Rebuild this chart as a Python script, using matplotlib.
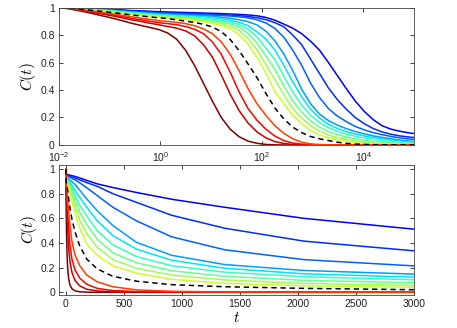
import numpy as np
import matplotlib
matplotlib.use('Agg')
import matplotlib.pyplot as plt
from matplotlib.ticker import NullLocator, FuncFormatter

plt.rcParams['font.family'] = ['Liberation Sans', 'DejaVu Sans']
plt.rcParams['mathtext.fontset'] = 'cm'

# sample times (log spaced, ratio 1.5)
t = 0.0107 * 1.5 ** np.arange(41)

# correlation curves (fast -> slow)
maroon = [1.0, .99, .978, .965, .95, .935, .92, .903, .885, .87, .855, .84, .815, .77, .69, .58, .45, .32, .2, .115,
          .06, .028, .012, .004, .001, 0, 0, 0, 0, 0, 0, 0, 0, 0, 0, 0, 0, 0, 0, 0, 0]
red2 = [1.0, .9925, .9825, .9725, .961, .949, .9375, .924, .91, .899, .886, .875, .862, .85, .83, .795, .73, .64, .51,
        .37, .25, .16, .095, .052, .025, .011, .004, .0015, .0005, 0, 0, 0, 0, 0, 0, 0, 0, 0, 0, 0, 0]
red3 = [1.0, .993, .985, .976, .966, .955, .945, .933, .921, .911, .9, .89, .883, .875, .862, .842, .81, .75, .66, .53,
        .385, .265, .18, .115, .065, .032, .014, .006, .002, .001, 0, 0, 0, 0, 0, 0, 0, 0, 0, 0, 0]
orange = [1.0, .994, .987, .979, .971, .961, .9525, .942, .932, .923, .914, .905, .899, .892, .883, .868, .845, .81,
          .75, .66, .54, .41, .3, .215, .14, .085, .045, .02, .008, .003, .001, 0, 0, 0, 0, 0, 0, 0, 0, 0, 0]
dashed = [1.0, .9955, .9895, .9835, .977, .969, .9625, .954, .946, .939, .932, .925, .92, .911, .901, .892, .878,
          .859, .825, .768, .687, .59, .49, .375, .27, .19, .13, .09, .062, .045, .032, .02, .012, .007, .004,
          .0025, .0015, .001, .0005, 0, 0]
yg = [1.0, .996, .99, .985, .978, .971, .965, .957, .95, .943, .936, .93, .925, .92, .916, .905, .897, .885, .87, .846,
      .8, .732, .638, .521, .39, .3, .215, .155, .105, .072, .052, .039, .028, .017, .011, .006, .004, .003, .002, .001,
      .001]
green = [1.0, .996, .991, .986, .98, .973, .968, .96, .953, .947, .941, .935, .93, .926, .922, .914, .905, .896, .883,
         .865, .832, .774, .693, .585, .475, .365, .265, .195, .14, .1, .072, .054, .042, .029, .021, .014, .011,
         .008, .006, .005, .004]
lgreen = [1.0, .996, .992, .987, .981, .975, .97, .963, .957, .951, .945, .94, .936, .932, .928, .924, .914, .906,
          .895, .881, .857, .811, .742, .648, .55, .43, .32, .24, .175, .13, .097, .075, .058, .045, .034, .026,
          .02, .016, .012, .01, .008]
aqua = [1.0, .997, .992, .988, .983, .978, .973, .967, .96, .956, .95, .945, .941, .937, .934, .931, .924, .915, .907,
        .895, .876, .843, .785, .704, .62, .5, .385, .29, .215, .163, .126, .099, .079, .064, .051, .041, .033, .026,
        .021, .017, .014]
cyan = [1.0, .997, .993, .989, .985, .98, .975, .97, .964, .96, .955, .95, .947, .943, .94, .937, .934, .924, .917,
        .907, .892, .868, .823, .77, .69, .58, .46, .35, .26, .195, .15, .12, .097, .08, .066, .054, .044,
        .036, .029, .023, .019]
sky = [1.0, .997, .994, .99, .986, .982, .978, .973, .968, .964, .959, .955, .952, .949, .946, .943, .941, .938, .929,
       .921, .911, .897, .874, .828, .758, .662, .542, .406, .3, .225, .177, .145, .119, .098, .081, .066, .055, .045,
       .036, .029, .024]
blue3 = [1.0, .998, .994, .991, .988, .984, .98, .976, .971, .968, .964, .96, .957, .954, .952, .95, .947, .945, .942,
         .938, .933, .925, .911, .888, .848, .785, .69, .58, .45, .345, .265, .21, .17, .135, .11, .09, .075, .062,
         .052, .044, .038]
blue2 = [1.0, .998, .995, .992, .989, .986, .982, .979, .975, .972, .968, .965, .962, .96, .958, .956, .954, .951,
         .948, .945, .941, .935, .926, .912, .89, .86, .8, .73, .625, .52, .415, .33, .26, .2, .155, .12, .095, .078,
         .066, .058, .052]
blue1 = [1.0, .998, .996, .993, .991, .988, .985, .982, .978, .976, .973, .97, .968, .966, .964, .962, .96, .958, .956,
         .953, .95, .946, .94, .928, .908, .88, .85, .81, .755, .69, .6, .505, .41, .32, .245, .185, .14, .115, .1,
         .088, .08]

curves = [blue1, blue2, blue3, sky, cyan, aqua, lgreen, green, yg, maroon, red2, red3, orange]
colors = plt.cm.jet([0.12, 0.17, 0.22, 0.28, 0.35, 0.42, 0.48, 0.54, 0.60, 1.0, 0.94, 0.90, 0.84])

fig = plt.figure(figsize=(4.57, 3.28), dpi=100)
ax1 = fig.add_axes([0.129, 0.558, 0.777, 0.419])
ax2 = fig.add_axes([0.13, 0.1006, 0.776, 0.396])

for ax in (ax1, ax2):
    for c, col in zip(curves, colors):
        ax.plot(t, c, color=col, lw=1.1)
    ax.plot(t, dashed, color='k', lw=1.1, dashes=(3.5, 2.5))
    ax.tick_params(direction='in', top=True, right=True, length=3, width=0.6,
                   labelsize=7.5, pad=3, colors='#222222')
    for s in ax.spines.values():
        s.set_linewidth(0.6)
        s.set_color('#444444')
    ax.set_yticks([0, 0.2, 0.4, 0.6, 0.8, 1])
    ax.yaxis.set_major_formatter(FuncFormatter(lambda v, p: f'{v:g}'))
    ax.set_ylabel('$C(t)$', fontsize=11)
    ax.yaxis.set_label_coords(-0.058, 0.5)

ax1.set_xscale('log')
ax1.set_xlim(1e-2, 1e5)
ax1.set_ylim(0, 1)
ax1.set_xticks([1e-2, 1e0, 1e2, 1e4])
ax1.xaxis.set_minor_locator(NullLocator())
ax1.tick_params(axis='x', pad=4)

ax2.set_xlim(-55, 3000)
ax2.set_ylim(-0.022, 1.032)
ax2.set_xticks([0, 500, 1000, 1500, 2000, 2500, 3000])
ax2.set_xlabel('$t$', fontsize=11)
ax2.xaxis.set_label_coords(0.5, -0.12)

fig.savefig('out.png', dpi=100)
